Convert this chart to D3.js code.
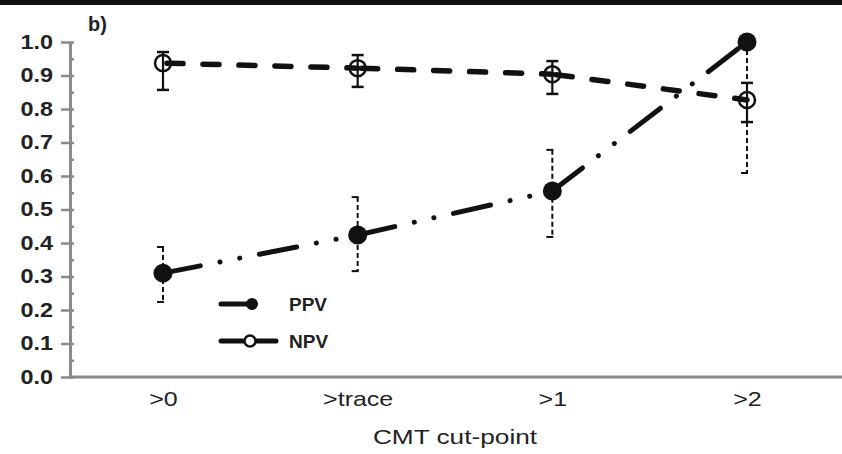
<!DOCTYPE html>
<html>
<head>
<meta charset="utf-8">
<script src="https://cdn.jsdelivr.net/npm/d3@7"></script>
<style>
  html, body { margin: 0; padding: 0; background: #fff; }
  svg { display: block; }
</style>
</head>
<body>
<svg id="chart" width="842" height="454"></svg>
<script>
// CMT cut-points on the x axis
const categories = [">0", ">trace", ">1", ">2"];

// Positive predictive value with 95% CI
const ppv      = [0.31, 0.424, 0.555, 1.0];
const ppvLower = [0.224, 0.316, 0.418, 0.609];
const ppvUpper = [0.388, 0.537, 0.678, 1.0];

// Negative predictive value with 95% CI
const npv      = [0.937, 0.922, 0.904, 0.827];
const npvLower = [0.857, 0.866, 0.845, 0.761];
const npvUpper = [0.970, 0.961, 0.943, 0.878];

const yTickLabels = ["0.0", "0.1", "0.2", "0.3", "0.4", "0.5", "0.6", "0.7", "0.8", "0.9", "1.0"];
const legendLabels = ["PPV", "NPV"];

const svg = d3.select("#chart");
const font = "'Liberation Sans', Arial, sans-serif";
const textInk = "#222";

// top border band
svg.append("rect").attr("x", 0).attr("y", 0).attr("width", 842).attr("height", 5).attr("fill", "#111");

const x = d3.scalePoint().domain(categories).range([163, 747]);
const y = d3.scaleLinear().domain([0, 1]).range([377, 42]);

const majors = yTickLabels.map(Number);
const minors = d3.range(0, 21).map(i => i * 0.05);

// y axis: labelled major ticks on the left
const yAxis = svg.append("g").attr("transform", "translate(70,0)")
  .call(d3.axisLeft(y).tickValues(majors).tickFormat((d, i) => yTickLabels[i]).tickSize(9).tickPadding(8).tickSizeOuter(0));
// small ticks every 0.05 on the right
const yMinor = svg.append("g").attr("transform", "translate(70,0)")
  .call(d3.axisRight(y).tickValues(minors).tickFormat("").tickSize(4).tickSizeOuter(0));
[yAxis, yMinor].forEach(g => {
  g.select(".domain").attr("stroke", "#8a8a8a").attr("stroke-width", 3);
  g.selectAll(".tick line").attr("stroke", "#8a8a8a").attr("stroke-width", 2.5);
});
// wide lettering: stretch the tick labels horizontally, keeping the right edge
yAxis.selectAll(".tick text")
  .attr("x", 0).attr("transform", "translate(-17,0) scale(1.2,1)")
  .attr("font-family", font).attr("font-size", 19.5).attr("font-weight", "bold").attr("fill", textInk);

// x axis
const xAxis = svg.append("g").attr("transform", "translate(0,377)")
  .call(d3.axisBottom(x).tickSize(0).tickPadding(14));
xAxis.select(".domain").attr("d", "M68.5,0H842").attr("stroke", "#8a8a8a").attr("stroke-width", 3);
xAxis.selectAll(".tick text")
  .attr("y", 0).attr("transform", "translate(0,14) scale(1.22,1)")
  .attr("font-family", font).attr("font-size", 20.5).attr("fill", textInk);

svg.append("text").attr("transform", "translate(455,444) scale(1.28,1)").attr("text-anchor", "middle")
  .attr("font-family", font).attr("font-size", 20.5).attr("fill", textInk).text("CMT cut-point");

svg.append("text").attr("x", 88).attr("y", 31)
  .attr("font-family", font).attr("font-size", 20).attr("font-weight", "bold").attr("fill", textInk).text("b)");

const ink = "#111";

// NPV error bars (solid, full caps)
const npvBars = svg.append("g");
categories.forEach((c, i) => {
  const cx = x(c);
  npvBars.append("line").attr("x1", cx).attr("x2", cx).attr("y1", y(npvLower[i])).attr("y2", y(npvUpper[i]))
    .attr("stroke", ink).attr("stroke-width", 2.2);
  [npvLower[i], npvUpper[i]].forEach(v => {
    npvBars.append("line").attr("x1", cx - 6).attr("x2", cx + 6).attr("y1", y(v)).attr("y2", y(v))
      .attr("stroke", ink).attr("stroke-width", 2.5);
  });
});

// PPV error bars (dashed, half caps)
const ppvBars = svg.append("g");
categories.forEach((c, i) => {
  const cx = x(c);
  ppvBars.append("line").attr("x1", cx).attr("x2", cx).attr("y1", y(ppvUpper[i])).attr("y2", y(ppvLower[i]))
    .attr("stroke", ink).attr("stroke-width", 2).attr("stroke-dasharray", "5,3");
  [ppvLower[i], ppvUpper[i]].forEach(v => {
    if (v === 1.0) return;
    ppvBars.append("line").attr("x1", cx - 6).attr("x2", cx + 1).attr("y1", y(v)).attr("y2", y(v))
      .attr("stroke", ink).attr("stroke-width", 2);
  });
});

const line = d3.line().x(d => x(d[0])).y(d => y(d[1]));
const npvPts = categories.map((c, i) => [c, npv[i]]);
const ppvPts = categories.map((c, i) => [c, ppv[i]]);

// NPV connecting line: long dashes
for (let i = 0; i < categories.length - 1; i++) {
  svg.append("path").attr("d", line([npvPts[i], npvPts[i + 1]]))
    .attr("fill", "none").attr("stroke", ink).attr("stroke-width", 5.5)
    .attr("stroke-linecap", "round").attr("stroke-dasharray", "16,20")
    .attr("stroke-dashoffset", -4);
}
// PPV connecting line: dash-dot-dot
for (let i = 0; i < categories.length - 1; i++) {
  svg.append("path").attr("d", line([ppvPts[i], ppvPts[i + 1]]))
    .attr("fill", "none").attr("stroke", ink).attr("stroke-width", 5)
    .attr("stroke-linecap", "round").attr("stroke-dasharray", "38,20,0.1,20,0.1,20");
}

// markers
svg.append("g").selectAll("circle").data(npvPts).join("circle")
  .attr("cx", d => x(d[0])).attr("cy", d => y(d[1])).attr("r", 8)
  .attr("fill", "none").attr("stroke", ink).attr("stroke-width", 2.5);
svg.append("g").selectAll("circle").data(ppvPts).join("circle")
  .attr("cx", d => x(d[0])).attr("cy", d => y(d[1])).attr("r", 9.5)
  .attr("fill", ink);

// legend
const lg = svg.append("g");
lg.append("line").attr("x1", 221).attr("x2", 254).attr("y1", 304).attr("y2", 304)
  .attr("stroke", ink).attr("stroke-width", 5).attr("stroke-linecap", "round");
lg.append("circle").attr("cx", 252).attr("cy", 304).attr("r", 6).attr("fill", ink);
lg.append("line").attr("x1", 221).attr("x2", 276).attr("y1", 341).attr("y2", 341)
  .attr("stroke", ink).attr("stroke-width", 5).attr("stroke-linecap", "round");
lg.append("circle").attr("cx", 250).attr("cy", 341).attr("r", 5.5)
  .attr("fill", "#fff").attr("stroke", ink).attr("stroke-width", 2.5);
legendLabels.forEach((t, i) => {
  lg.append("text").attr("x", 289).attr("y", 311 + i * 37)
    .attr("font-family", font).attr("font-size", 19).attr("font-weight", "bold").attr("fill", textInk).text(t);
});
</script>
</body>
</html>
